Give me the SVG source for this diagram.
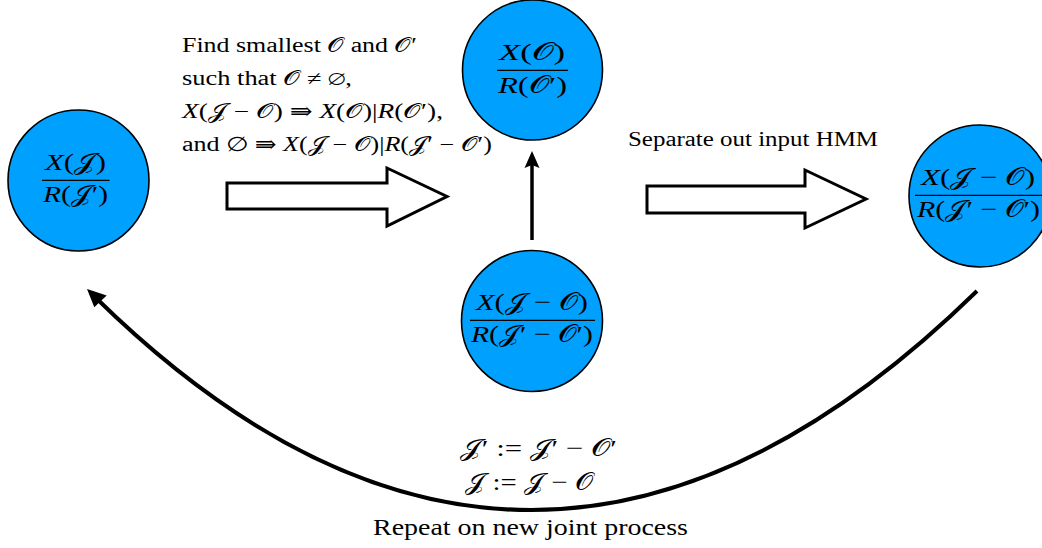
<svg xmlns="http://www.w3.org/2000/svg" width="1042" height="548" viewBox="0 0 1042 548">
<style>
.node{fill:#00A0FF;stroke:#000;stroke-width:1.6}
.frac{stroke:#000;stroke-width:1.3}
.t{font-family:"Liberation Serif","DejaVu Serif",serif;fill:#000}
.m{font-size:24px}
.s{font-size:20px}
.i{font-style:italic}
.blk{fill:#fff;stroke:#000;stroke-width:3;stroke-linejoin:miter}
.ln{fill:none;stroke:#000}
</style>
<rect width="1042" height="548" fill="#fff"/>
<g id="connectors">
<polygon class="blk" points="227,183 387,183 387,168 447,196.5 387,226 387,209 227,209"/>
<polygon class="blk" points="647,186 805,186 805,170 866,199 805,228 805,213 647,213"/>
<line class="ln" x1="532" y1="240" x2="532" y2="164" stroke-width="3.5"/>
<polygon points="532,151 539.5,168 532,165 524.5,168" fill="#000"/>
<path class="ln" d="M977,291 Q532,726 95,297" stroke-width="4"/>
<polygon points="87,289 106.7,295.5 100,301.7 94.3,307.3" fill="#000"/>
</g>
<g id="node-left">
<circle class="node" cx="78.5" cy="180.5" r="70.5"/>
<line class="frac" x1="42" y1="180.3" x2="109.5" y2="180.3"/>
<text class="t m" x="75.5" y="170" text-anchor="middle" textLength="61" lengthAdjust="spacingAndGlyphs"><tspan class="i">X</tspan>(𝒥)</text>
<text class="t m" x="75.5" y="202" text-anchor="middle" textLength="65" lengthAdjust="spacingAndGlyphs"><tspan class="i">R</tspan>(𝒥′)</text>
</g>
<g id="node-top">
<circle class="node" cx="532.5" cy="70" r="70"/>
<line class="frac" x1="497" y1="70.3" x2="568" y2="70.3"/>
<text class="t m" x="532" y="60" text-anchor="middle" textLength="66" lengthAdjust="spacingAndGlyphs"><tspan class="i">X</tspan>(𝒪)</text>
<text class="t m" x="532.5" y="93" text-anchor="middle" textLength="69" lengthAdjust="spacingAndGlyphs"><tspan class="i">R</tspan>(𝒪′)</text>
</g>
<g id="node-bottom">
<circle class="node" cx="532" cy="321" r="70.5"/>
<line class="frac" x1="470" y1="320.3" x2="595" y2="320.3"/>
<text class="t m" x="532" y="310" text-anchor="middle" textLength="112" lengthAdjust="spacingAndGlyphs"><tspan class="i">X</tspan>(𝒥 − 𝒪)</text>
<text class="t m" x="532" y="342" text-anchor="middle" textLength="122" lengthAdjust="spacingAndGlyphs"><tspan class="i">R</tspan>(𝒥′ − 𝒪′)</text>
</g>
<g id="node-right">
<circle class="node" cx="980" cy="196" r="71"/>
<line class="frac" x1="915" y1="195.3" x2="1042" y2="195.3"/>
<text class="t m" x="978" y="185" text-anchor="middle" textLength="114" lengthAdjust="spacingAndGlyphs"><tspan class="i">X</tspan>(𝒥 − 𝒪)</text>
<text class="t m" x="978.5" y="217" text-anchor="middle" textLength="123" lengthAdjust="spacingAndGlyphs"><tspan class="i">R</tspan>(𝒥′ − 𝒪′)</text>
</g>
<g id="labels">
<text class="t s" x="182" y="52" textLength="235" lengthAdjust="spacingAndGlyphs">Find smallest 𝒪 and 𝒪′</text>
<text class="t s" x="182" y="85" textLength="170" lengthAdjust="spacingAndGlyphs">such that 𝒪 ≠ ∅,</text>
<text class="t s" x="182" y="118" textLength="261" lengthAdjust="spacingAndGlyphs"><tspan class="i">X</tspan>(𝒥 − 𝒪) ⇛ <tspan class="i">X</tspan>(𝒪)|<tspan class="i">R</tspan>(𝒪′),</text>
<text class="t s" x="182" y="151" textLength="310" lengthAdjust="spacingAndGlyphs">and ∅ ⇛ <tspan class="i">X</tspan>(𝒥 − 𝒪)|<tspan class="i">R</tspan>(𝒥′ − 𝒪′)</text>
<text class="t s" x="628" y="146" textLength="250" lengthAdjust="spacingAndGlyphs">Separate out input HMM</text>
<text class="t m" x="538.5" y="456" text-anchor="middle" textLength="157" lengthAdjust="spacingAndGlyphs">𝒥′ := 𝒥′ − 𝒪′</text>
<text class="t m" x="529" y="490" text-anchor="middle" textLength="128" lengthAdjust="spacingAndGlyphs">𝒥 := 𝒥 − 𝒪</text>
<text class="t m" x="530.5" y="535" text-anchor="middle" textLength="315" lengthAdjust="spacingAndGlyphs">Repeat on new joint process</text>
</g>
</svg>
